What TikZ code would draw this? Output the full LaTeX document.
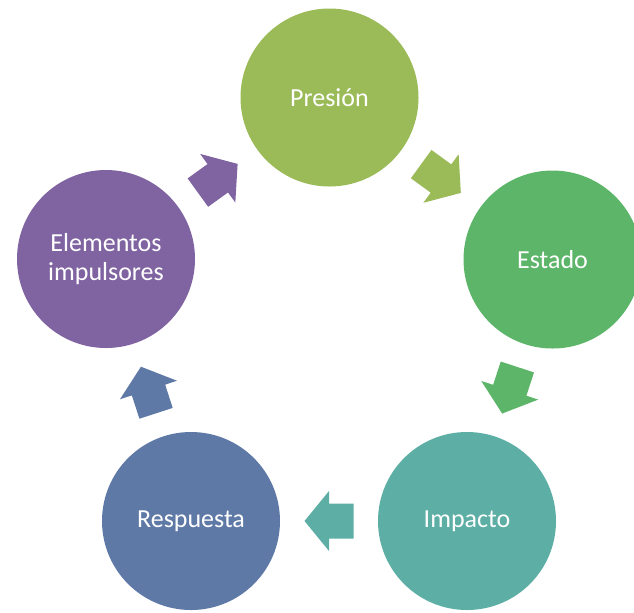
\documentclass[tikz,border=0pt]{standalone}
\usepackage{fontspec}
\setmainfont{Carlito}
\usetikzlibrary{calc}

\definecolor{presioncol}{RGB}{155,187,89}
\definecolor{estadocol}{RGB}{93,181,105}
\definecolor{impactocol}{RGB}{93,175,165}
\definecolor{respuestacol}{RGB}{95,121,167}
\definecolor{elementoscol}{RGB}{128,100,161}

\tikzset{
  stage/.style={circle, fill=#1, minimum size=133.5pt, inner sep=0pt,
    text=white, align=center, font=\fontsize{19.5}{22}\selectfont},
}

% block arrow half way between two stages, pointing from #1 to #2
\newcommand{\cyclearrow}[3]{%
  \fill[#3] let \p1=($(#2)-(#1)$), \n1={atan2(\y1,\x1)} in
    [shift={($(#1)!0.5!(#2)$)}, rotate=\n1]
    (-24.5,-17.5) -- (0,-17.5) -- (0,-30) -- (24.5,0) -- (0,30)
    -- (0,17.5) -- (-24.5,17.5) -- cycle;
}

\begin{document}
\begin{tikzpicture}[x=0.75pt, y=-0.75pt]
\clip (0,0) rectangle (634,612);
\node[stage=presioncol] (pres) at (329.5,97.5) {Presión};
\node[stage=estadocol] (est) at (552.5,259.5) {Estado};
\node[stage=impactocol] (imp) at (467,521) {Impacto};
\node[stage=respuestacol] (resp) at (191,521) {Respuesta};
\node[stage=elementoscol] (elem) at (106,259) {Elementos\\impulsores};
\cyclearrow{pres}{est}{presioncol}
\cyclearrow{est}{imp}{estadocol}
\cyclearrow{imp}{resp}{impactocol}
\cyclearrow{resp}{elem}{respuestacol}
\cyclearrow{elem}{pres}{elementoscol}
\end{tikzpicture}
\end{document}
